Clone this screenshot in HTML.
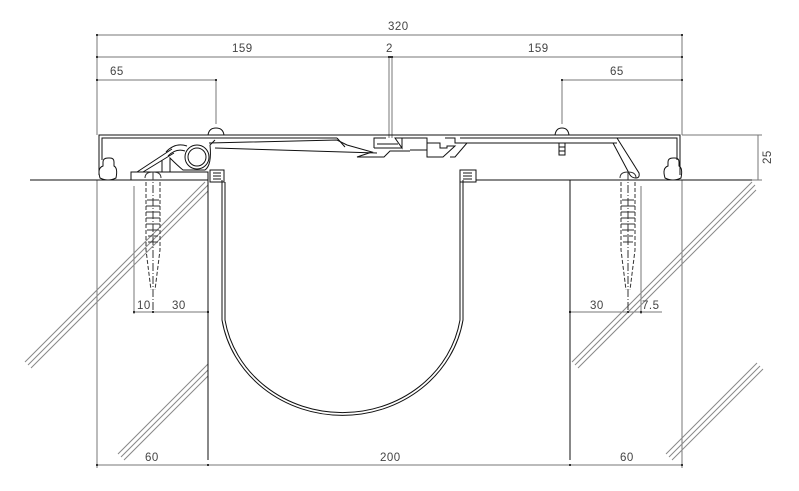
<!DOCTYPE html>
<html><head><meta charset="utf-8"><style>
html,body{margin:0;padding:0;background:#fff;}
svg{display:block;}
text{font-family:"Liberation Sans",sans-serif;font-size:11.5px;fill:#444;letter-spacing:0.5px;}
</style></head><body>
<svg width="799" height="491" viewBox="0 0 799 491" xmlns="http://www.w3.org/2000/svg">
<g fill="none" stroke="#777" stroke-width="1">
<!-- top dims -->
<line x1="97" y1="35" x2="682" y2="35"/>
<line x1="97" y1="57" x2="682" y2="57"/>
<line x1="97" y1="80" x2="216" y2="80"/>
<line x1="562" y1="80" x2="682" y2="80"/>
<line x1="97" y1="35" x2="97" y2="135"/>
<line x1="682" y1="35" x2="682" y2="135"/>
<line x1="216" y1="80" x2="216" y2="124"/>
<line x1="562" y1="80" x2="562" y2="124"/>
<line x1="389" y1="57" x2="389" y2="138"/>
<line x1="392" y1="57" x2="392" y2="138"/>
<!-- 25 dim -->
<line x1="682" y1="135" x2="762" y2="135"/>
<line x1="727" y1="180" x2="762" y2="180"/>
<line x1="758" y1="135" x2="758" y2="180"/>
<!-- slab side lines -->
<line x1="97" y1="180" x2="97" y2="468"/>
<line x1="682" y1="180" x2="682" y2="468"/>
<line x1="134" y1="186" x2="134" y2="314"/>
<line x1="641" y1="186" x2="641" y2="314"/>
<!-- anchor dims -->
<line x1="134" y1="312" x2="208" y2="312"/>
<line x1="570" y1="312" x2="662" y2="312"/>
<!-- bottom dim -->
<line x1="97" y1="465" x2="682" y2="465"/>
<!-- hatch -->
<g stroke="#888">
<line x1="25" y1="362" x2="205" y2="182"/><line x1="28" y1="365" x2="208" y2="185"/><line x1="31" y1="368" x2="208" y2="191"/>
<line x1="118" y1="454" x2="208" y2="364"/><line x1="121" y1="457" x2="208" y2="370"/><line x1="124" y1="460" x2="208" y2="376"/>
<line x1="572" y1="362" x2="752" y2="182"/><line x1="575" y1="365" x2="755" y2="185"/><line x1="578" y1="368" x2="756" y2="190"/>
<line x1="666" y1="454" x2="757" y2="363"/><line x1="669" y1="457" x2="760" y2="366"/><line x1="672" y1="460" x2="763" y2="369"/>
</g>
</g>
<g fill="#333" stroke="none">
<rect x="96" y="34" width="2" height="2"/><rect x="681" y="34" width="2" height="2"/>
<rect x="96" y="56" width="2" height="2"/><rect x="681" y="56" width="2" height="2"/><rect x="388" y="56" width="5" height="2"/>
<rect x="96" y="79" width="2" height="2"/><rect x="215" y="79" width="2" height="2"/><rect x="561" y="79" width="2" height="2"/><rect x="681" y="79" width="2" height="2"/>
<rect x="96" y="464" width="2" height="2"/><rect x="207" y="464" width="2" height="2"/><rect x="569" y="464" width="2" height="2"/><rect x="681" y="464" width="2" height="2"/>
<rect x="133" y="311" width="2" height="2"/><rect x="152" y="311" width="2" height="2"/><rect x="207" y="311" width="2" height="2"/>
<rect x="569" y="311" width="2" height="2"/><rect x="627" y="311" width="2" height="2"/><rect x="640" y="311" width="2" height="2"/>
</g>
<g fill="none" stroke="#111" stroke-width="1">
<!-- ground -->
<line x1="30" y1="180" x2="208" y2="180"/>
<line x1="476" y1="180" x2="752" y2="180"/>
<line x1="208" y1="180" x2="208" y2="460"/>
<line x1="570" y1="180" x2="570" y2="460"/>
<!-- cover plate top -->
<path d="M99,175 L99,135 L680,135 L680,175"/>
<path d="M102,160 L102,138 L337,138"/>
<path d="M677,160 L677,138 L460,138"/>
<!-- gaskets -->
<path d="M100,178 Q97,168 103,166 L103,162 Q103,158 108,158 L110,158 Q114,158 114,162 L114,166 Q118,168 116,178 Q108,182 100,178 Z"/>
<path d="M665,178 Q662,168 668,166 L668,162 Q668,158 673,158 L675,158 Q679,158 679,162 L679,166 Q683,168 681,178 Q673,182 665,178 Z"/>
<!-- left base plate & hinge -->
<path d="M131,180 L131,172 L208,172 L208,180"/>
<path d="M137,172 L172,149 M143,172 L174,153"/>
<circle cx="197" cy="157" r="12"/>
<circle cx="197" cy="157" r="9"/>
<path d="M166,152 Q175,142 187,146 M168,156 Q176,148 185,151"/>
<path d="M170,172 L170,158 Q178,166 183,170 L205,170 Q212,165 210,145 L215,140"/>
<path d="M162,172 L162,160"/>
<!-- arm -->
<path d="M209,143 L337,140 L347,145 L372,152 L357,157 L384,157 L390,151 L410,151"/>
<path d="M215,148 L377,153"/>
<path d="M337,138 L345,147"/>
<!-- center slot -->
<path d="M374,148 L374,138 L386,138 M395,138 L402,138 L402,148 Z M374,148 L402,148"/>
<path d="M377,144 L398,144"/>
<path d="M402,138 L427,138 L427,150 L410,150"/>
<path d="M427,143 L440,143 L440,148 L447,148 L447,146 L455,146 L443,157 L427,157 Z"/>
<path d="M445,138 L455,138 L455,143 L467,143 L455,157 L450,157"/>
<path d="M467,143 L617,143 M460,138 L617,138"/>
<!-- right diagonal -->
<path d="M617,138 L639,173 Q640,178 636,178 Q632,178 630,175 L613,143"/>
<!-- screw heads -->
<path d="M208,135 Q209,128 216,128 Q223,128 224,135"/>
<path d="M555,135 Q556,128 562,128 Q568,128 569,135"/>
<path d="M559,143 L565,143 L565,155 L559,155 Z M559,147 L565,147 M559,151 L565,151"/>
<!-- seal clips -->
<rect x="210" y="170" width="14" height="12"/>
<path d="M213,173 L221,173 M213,176 L221,176 M213,179 L221,179"/>
<rect x="460" y="170" width="16" height="12"/>
<path d="M463,173 L472,173 M463,176 L472,176 M463,179 L472,179"/>
<!-- U seal -->
<path d="M222,180 L222,320 A122,113 0 0 0 463,320 L463,180"/>
<path d="M225,182 L225,320 A119,110 0 0 0 460,320 L460,182"/>
<!-- anchors -->
<g stroke="#333">
<path d="M145,178 Q145,172 153,172 Q161,172 161,178"/>
<line x1="153" y1="172" x2="153" y2="312" stroke-dasharray="8,2,1,2"/>
<path d="M146,182 L146,250 L151,290 M160,182 L160,250 L155,290" stroke-dasharray="4,2"/>
<path d="M147,200 h12 M146,206 h14 M146,212 h14 M146,218 h14 M146,224 h14 M147,230 h12 M148,236 h10 M148,242 h10"/>
<path d="M620,178 Q620,172 628,172 Q636,172 636,178"/>
<line x1="628" y1="172" x2="628" y2="312" stroke-dasharray="8,2,1,2"/>
<path d="M621,182 L621,250 L626,290 M635,182 L635,250 L630,290" stroke-dasharray="4,2"/>
<path d="M622,200 h12 M621,206 h14 M621,212 h14 M621,218 h14 M621,224 h14 M622,230 h12 M623,236 h10 M623,242 h10"/>
</g>
</g>
<text x="388" y="30">320</text>
<text x="232" y="52">159</text>
<text x="386" y="52">2</text>
<text x="528" y="52">159</text>
<text x="110" y="75">65</text>
<text x="610" y="75">65</text>
<text x="137" y="309">10</text>
<text x="172" y="309">30</text>
<text x="590" y="309">30</text>
<text x="642" y="309">7.5</text>
<text x="145" y="461">60</text>
<text x="380" y="461">200</text>
<text x="620" y="461">60</text>
<text transform="translate(771,164) rotate(-90)">25</text>
</svg>
</body></html>
